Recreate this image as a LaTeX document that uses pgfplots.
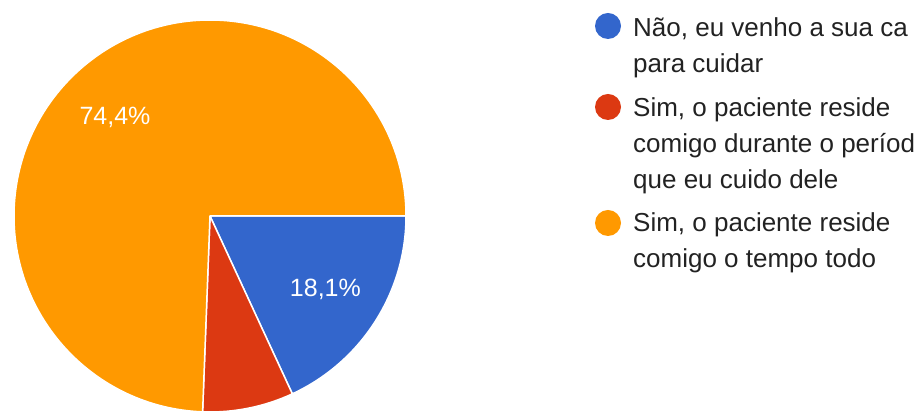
\documentclass[border=0pt]{standalone}
\usepackage{pgfplots}
\usepackage{pgfplotstable}
\pgfplotsset{compat=1.18}
\usepackage{fontspec}
\setmainfont{Liberation Sans}

\definecolor{gblue}{HTML}{3366CC}
\definecolor{gred}{HTML}{DC3912}
\definecolor{gorange}{HTML}{FF9900}
\definecolor{legtext}{HTML}{222222}

% share of answers, in percent, in drawing order (clockwise from 3 o'clock)
\pgfplotstableread{
value color
18.1  gblue
7.5   gred
74.4  gorange
}\piedata

\begin{document}
\begin{tikzpicture}
\useasboundingbox (0,0) rectangle (922pt,417pt);
\clip (0,0) rectangle (922pt,417pt);
\begin{axis}[
  at={(0,0)}, anchor=south west,
  scale only axis, width=922pt, height=417pt,
  xmin=-1.0714, xmax=3.6327, ymin=-1.0255, ymax=1.1020,
  hide axis, clip=false,
]
\def\startang{0}
\pgfplotsforeachungrouped \i in {0,1,2}{
  \pgfplotstablegetelem{\i}{value}\of\piedata \let\v\pgfplotsretval
  \pgfplotstablegetelem{\i}{color}\of\piedata \let\c\pgfplotsretval
  \pgfmathsetmacro\endang{\startang - 3.6*\v}
  \pgfmathsetmacro\midang{(\startang + \endang)/2}
  \edef\tmp{\noexpand\fill[\c, draw=white, line width=1.5pt, line join=round]
    (axis cs:0,0) -- ([shift={(\startang:196pt)}]axis cs:0,0)
    arc[start angle=\startang, end angle=\endang, radius=196pt] -- cycle;}
  \tmp
  \pgfmathparse{\v>10 ? 1 : 0}
  \ifnum\pgfmathresult=1
    \edef\tmp{\noexpand\node[text=white, font=\noexpand\fontsize{25}{28}\noexpand\selectfont]
      at ([shift={(\midang:137pt)}]axis cs:0,0)
      {\noexpand\pgfmathprintnumber[fixed, fixed zerofill, precision=1, use comma,
        assume math mode=true]{\v}\noexpand\%};}
    \tmp
  \fi
  \global\let\startang\endang
}
\end{axis}
% legend, cut at the right edge as in the screenshot
\begin{scope}[every node/.style={anchor=base west, inner sep=0pt, text=legtext,
    font=\fontsize{26}{30}\selectfont}]
  \fill[gblue]   (608pt,417pt-26pt)  circle (13pt);
  \fill[gred]    (608pt,417pt-107pt) circle (13pt);
  \fill[gorange] (608pt,417pt-223pt) circle (13pt);
  \node at (633pt,417pt-37pt)  {Não, eu venho a sua ca};
  \node at (633pt,417pt-73pt)  {para cuidar};
  \node at (633pt,417pt-117pt) {Sim, o paciente reside};
  \node at (633pt,417pt-153pt) {comigo durante o períod};
  \node at (633pt,417pt-189pt) {que eu cuido dele};
  \node at (633pt,417pt-232pt) {Sim, o paciente reside};
  \node at (633pt,417pt-268pt) {comigo o tempo todo};
\end{scope}
\end{tikzpicture}
\end{document}
